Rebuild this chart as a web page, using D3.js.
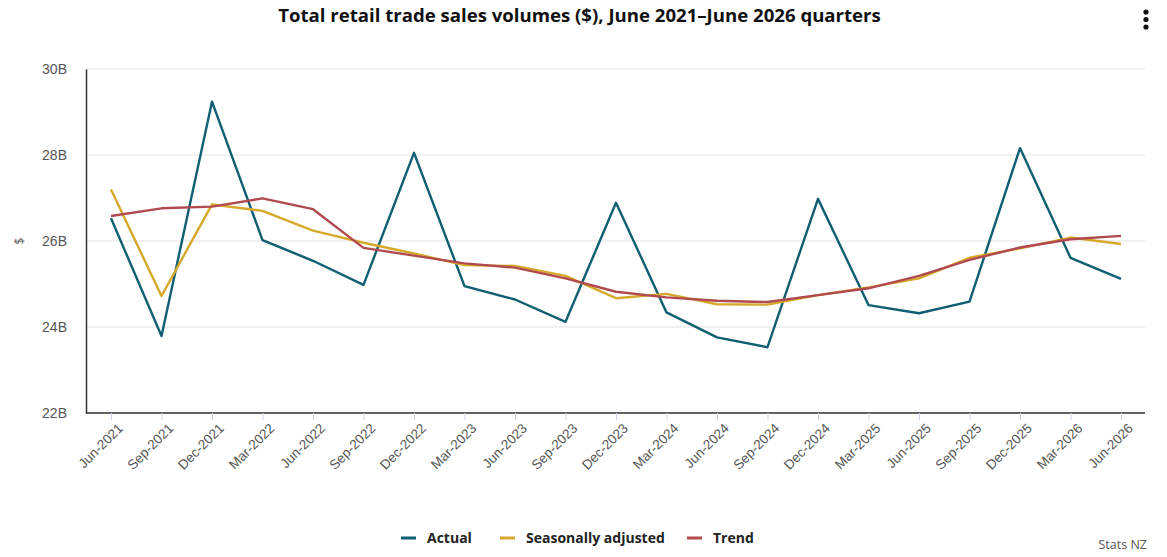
<!DOCTYPE html>
<html>
<head>
<meta charset="utf-8">
<script src="https://cdn.jsdelivr.net/npm/d3@7"></script>
<style>
  body { margin: 0; background: #fff; font-family: "Open Sans", "Noto Sans", sans-serif; }
  svg text { fill: #555; }
</style>
</head>
<body>
<svg id="chart"></svg>
<script>
const quarters = ["Jun-2021", "Sep-2021", "Dec-2021", "Mar-2022", "Jun-2022", "Sep-2022", "Dec-2022",
  "Mar-2023", "Jun-2023", "Sep-2023", "Dec-2023", "Mar-2024", "Jun-2024", "Sep-2024", "Dec-2024",
  "Mar-2025", "Jun-2025", "Sep-2025", "Dec-2025", "Mar-2026", "Jun-2026"]

// values in billions of dollars
const actual = [26.53, 23.79, 29.24, 26.02, 25.54, 24.98, 28.05, 24.95, 24.64, 24.12, 26.89,
  24.34, 23.76, 23.53, 26.98, 24.51, 24.32, 24.59, 28.16, 25.61, 25.12]
const seasonal = [27.20, 24.72, 26.85, 26.70, 26.24, 25.96, 25.71, 25.44, 25.42, 25.19, 24.67,
  24.77, 24.53, 24.52, 24.74, 24.92, 25.13, 25.61, 25.83, 26.08, 25.93]
const trend = [26.58, 26.76, 26.80, 26.99, 26.74, 25.84, 25.66, 25.48, 25.38, 25.13, 24.82,
  24.69, 24.61, 24.58, 24.74, 24.90, 25.19, 25.56, 25.85, 26.04, 26.12]

const yTicks = [22, 24, 26, 28, 30]

const series = [
  { name: "Actual", values: actual, color: "#0f5e72" },
  { name: "Seasonally adjusted", values: seasonal, color: "#d6a92b" },
  { name: "Trend", values: trend, color: "#b14a4f" }
]

const W = 1167, H = 557
const margin = { top: 69, right: 22, bottom: 144, left: 86 }

const svg = d3.select('#chart').attr('width', W).attr('height', H)

const x = d3.scalePoint()
  .domain(quarters)
  .range([margin.left + 25, W - margin.right - 24])

const y = d3.scaleLinear()
  .domain([22, 30])
  .range([H - margin.bottom, margin.top])

// title
svg.append('text')
  .attr('x', W / 2 - 4)
  .attr('y', 22)
  .attr('text-anchor', 'middle')
  .style('font-size', '18.6px')
  .style('font-weight', 'bold')
  .style('fill', '#111')
  .text('Total retail trade sales volumes ($), June 2021–June 2026 quarters')

// menu dots
svg.append('g')
  .selectAll('circle')
  .data([0, 1, 2])
  .join('circle')
  .attr('cx', 1146)
  .attr('cy', d => 12 + d * 7.5)
  .attr('r', 2.6)
  .attr('fill', '#111')

// grid
svg.append('g')
  .selectAll('line')
  .data(yTicks)
  .join('line')
  .attr('x1', margin.left)
  .attr('x2', W - margin.right)
  .attr('y1', d => y(d))
  .attr('y2', d => y(d))
  .attr('stroke', '#e3e3e3')
  .attr('stroke-width', 1)

// y axis
const yAxis = svg.append('g')
  .attr('transform', `translate(${margin.left},0)`)
  .call(d3.axisLeft(y).tickValues(yTicks).tickSize(0).tickPadding(19).tickFormat(d => d + 'B'))
yAxis.select('.domain').attr('stroke', '#333').attr('stroke-width', 1.5)
yAxis.selectAll('text').style('font-size', '14px').style('fill', '#555')

svg.append('text')
  .attr('transform', `translate(24,${y(26)}) rotate(-90)`)
  .attr('text-anchor', 'middle')
  .style('font-size', '12px')
  .text('$')

// x axis
const xAxis = svg.append('g')
  .attr('transform', `translate(0,${H - margin.bottom})`)
  .call(d3.axisBottom(x).tickSize(7).tickPadding(5))
xAxis.select('.domain').attr('d', `M${margin.left},0H${W - margin.right}`)
  .attr('stroke', '#333').attr('stroke-width', 1.5)
xAxis.selectAll('.tick line').attr('stroke', '#ccd6eb')
xAxis.selectAll('text')
  .style('font-size', '13.5px')
  .style('fill', '#555')
  .attr('text-anchor', 'end')
  .attr('dx', '-0.2em')
  .attr('dy', '0.6em')
  .attr('transform', 'rotate(-45)')

// lines
const line = d3.line()
  .x((d, i) => x(quarters[i]))
  .y(d => y(d))

svg.append('g')
  .selectAll('path')
  .data(series)
  .join('path')
  .attr('d', d => line(d.values))
  .attr('fill', 'none')
  .attr('stroke', d => d.color)
  .attr('stroke-width', 2.4)
  .attr('stroke-linejoin', 'round')

// legend
const legendX = [401, 500, 687]
const legend = svg.append('g')
  .selectAll('g')
  .data(series)
  .join('g')
  .attr('transform', (d, i) => `translate(${legendX[i]},538)`)
legend.append('line')
  .attr('x1', 0).attr('x2', 15)
  .attr('stroke', d => d.color)
  .attr('stroke-width', 3)
legend.append('text')
  .attr('x', 26)
  .attr('dy', '0.35em')
  .style('font-size', '14px')
  .style('font-weight', 'bold')
  .style('fill', '#222')
  .text(d => d.name)

svg.append('text')
  .attr('x', 1147)
  .attr('y', 549)
  .attr('text-anchor', 'end')
  .style('font-size', '12.5px')
  .style('fill', '#555')
  .text('Stats NZ')
</script>
</body>
</html>
